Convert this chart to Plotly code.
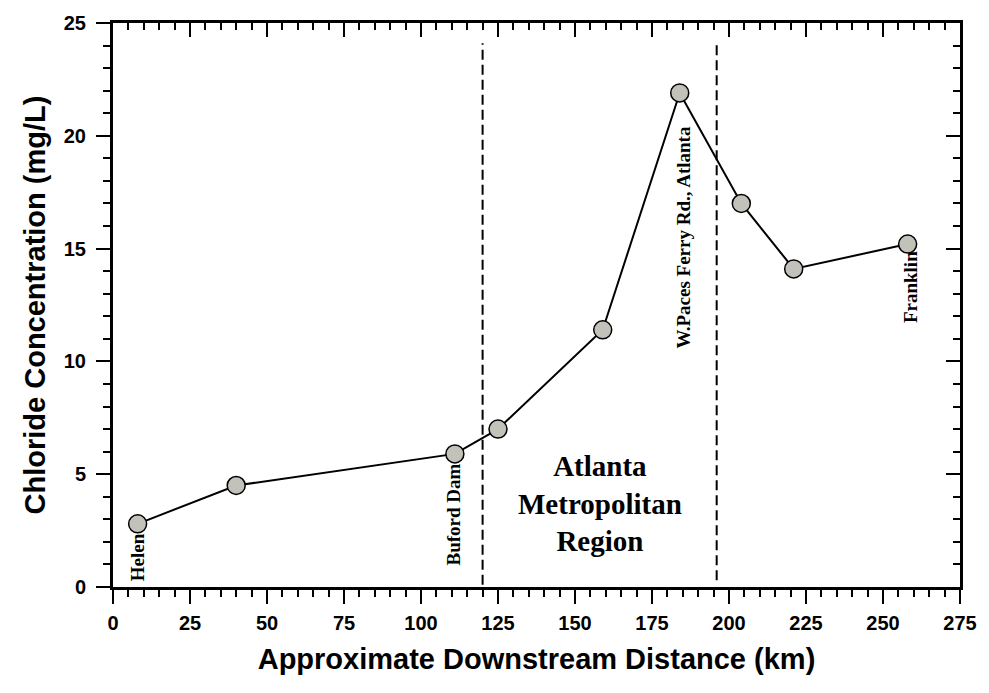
import plotly.graph_objects as go

# Data
distance_km = [8, 40, 111, 125, 159, 184, 204, 221, 258]
chloride_mgL = [2.8, 4.5, 5.9, 7.0, 11.4, 21.9, 17.0, 14.1, 15.2]

site_labels = ["Helen", "Buford Dam", "W.Paces Ferry Rd., Atlanta", "Franklin"]
site_label_x = [8, 110.6, 185.2, 258.7]
site_label_y = [0.15, 0.85, 10.5, 11.6]

boundary_km = [120, 196]
boundary_y0 = [0.1, 0.3]
boundary_y1 = [24.1, 24.1]

region_text = "Atlanta<br>Metropolitan<br>Region"
region_x = 158.2
region_y = 3.7

x_ticks = list(range(0, 276, 25))
y_ticks = list(range(0, 26, 5))

fig = go.Figure()

fig.add_trace(go.Scatter(
    x=distance_km, y=chloride_mgL, mode="lines+markers",
    line=dict(color="black", width=2),
    marker=dict(size=18, color="#c2c2ba", line=dict(color="black", width=1.5)),
    showlegend=False, hoverinfo="skip",
))
# invisible trace for mirrored axes
fig.add_trace(go.Scatter(
    x=distance_km, y=chloride_mgL, xaxis="x2", yaxis="y2", mode="markers",
    marker=dict(opacity=0), showlegend=False, hoverinfo="skip",
))

for xb, y0, y1 in zip(boundary_km, boundary_y0, boundary_y1):
    fig.add_shape(type="line", x0=xb, x1=xb, y0=y0, y1=y1, xref="x", yref="y",
                  line=dict(color="black", width=2, dash="10px,5px"))

label_font = dict(family="Liberation Serif", size=19, color="black", weight="bold")
for t, lx, ly in zip(site_labels, site_label_x, site_label_y):
    fig.add_annotation(x=lx, y=ly, text=t, textangle=-90,
                       xanchor="center", yanchor="bottom", showarrow=False,
                       font=label_font)

fig.add_annotation(x=region_x, y=region_y, text=region_text,
                   showarrow=False, xanchor="center", yanchor="middle",
                   font=dict(family="Liberation Serif", size=29, color="black", weight="bold"))

tick_font = dict(family="Liberation Sans", size=20, color="black", weight="bold")
title_font = dict(family="Liberation Sans", size=29, color="black", weight="bold")

fig.update_layout(
    width=989, height=693,
    margin=dict(l=113, r=24, t=19, b=106),
    plot_bgcolor="white", paper_bgcolor="white",
    xaxis=dict(
        range=[0, 275], tickvals=x_ticks, ticktext=[str(v) for v in x_ticks],
        showgrid=False, zeroline=False, showline=True, linecolor="black", linewidth=3,
        ticks="outside", ticklen=14, tickwidth=2, tickcolor="black",
        minor=dict(dtick=5, ticks="outside", ticklen=7, tickwidth=1.5, tickcolor="black"),
        tickfont=tick_font, ticklabelstandoff=2,
        title=dict(text="Approximate Downstream Distance (km)", font=title_font, standoff=16),
    ),
    yaxis=dict(
        range=[0, 25], tickvals=y_ticks, ticktext=[str(v) for v in y_ticks],
        showgrid=False, zeroline=False, showline=True, linecolor="black", linewidth=3,
        ticks="outside", ticklen=14, tickwidth=2, tickcolor="black",
        minor=dict(dtick=1, ticks="outside", ticklen=7, tickwidth=1.5, tickcolor="black"),
        tickfont=tick_font, ticklabelstandoff=6,
        title=dict(text="Chloride Concentration (mg/L)", font=title_font, standoff=10),
    ),
    xaxis2=dict(
        overlaying="x", side="top", matches="x", range=[0, 275], tickvals=x_ticks,
        showticklabels=False, showgrid=False, zeroline=False, showline=True,
        linecolor="black", linewidth=3, ticks="inside", ticklen=14, tickwidth=2,
        tickcolor="black",
        minor=dict(dtick=5, ticks="inside", ticklen=7, tickwidth=1.5, tickcolor="black"),
    ),
    yaxis2=dict(
        overlaying="y", side="right", matches="y", range=[0, 25], tickvals=y_ticks,
        showticklabels=False, showgrid=False, zeroline=False, showline=True,
        linecolor="black", linewidth=3, ticks="inside", ticklen=14, tickwidth=2,
        tickcolor="black",
        minor=dict(dtick=1, ticks="inside", ticklen=7, tickwidth=1.5, tickcolor="black"),
    ),
)

fig.write_html("out.html")
